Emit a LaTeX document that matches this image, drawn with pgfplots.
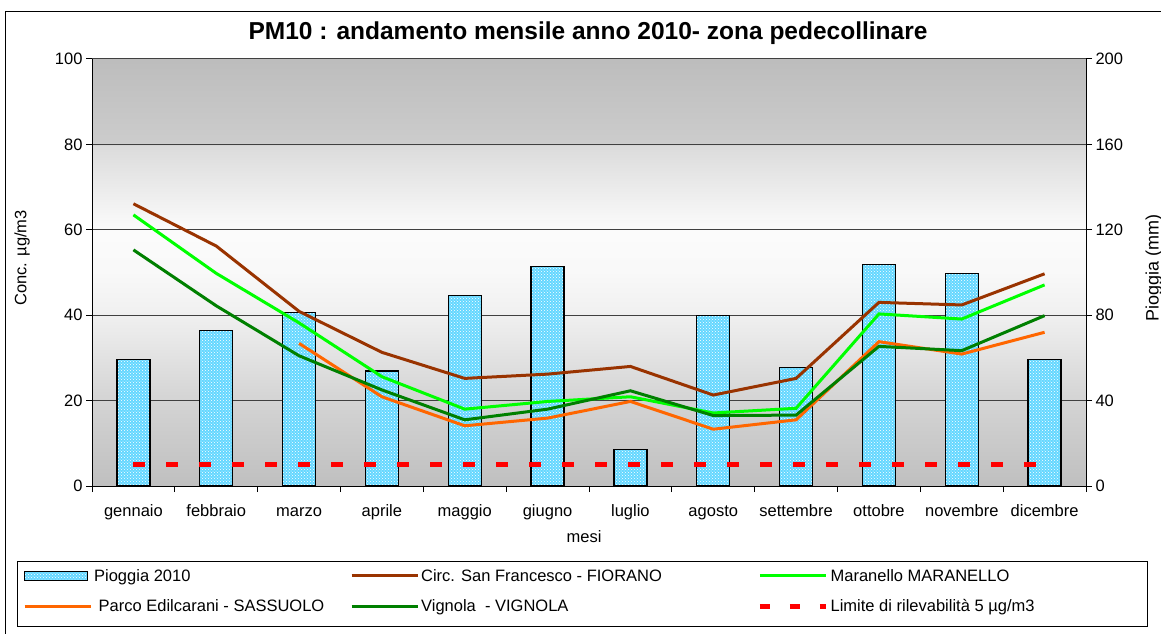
\documentclass[border=0pt]{standalone}
\usepackage{fontspec}
\setmainfont{Liberation Sans}
\usepackage{pgfplots}
\usepackage{pgfplotstable}
\pgfplotsset{compat=1.18}
\usetikzlibrary{patterns}

\definecolor{cBrown}{RGB}{153,51,0}
\definecolor{cLGreen}{RGB}{0,255,0}
\definecolor{cDGreen}{RGB}{0,128,0}
\definecolor{cOrange}{RGB}{255,102,0}
\definecolor{cRed}{RGB}{255,0,0}
\definecolor{cBar}{RGB}{100,215,255}
\definecolor{s0}{gray}{0.75}
\definecolor{s20}{gray}{0.83}
\definecolor{s40}{gray}{0.94}
\definecolor{s50}{gray}{0.975}
\definecolor{s60}{gray}{0.985}
\definecolor{s80b}{gray}{0.86}
\definecolor{s80a}{gray}{0.80}
\definecolor{s100}{gray}{0.74}
\pgfdeclareverticalshading{excelbg}{100bp}{color(0bp)=(s0); color(25bp)=(s0); color(35bp)=(s20); color(45bp)=(s40); color(50bp)=(s50); color(55bp)=(s60); color(64.8bp)=(s80b); color(65.2bp)=(s80a); color(75bp)=(s100); color(100bp)=(s100)}

\newcommand{\fs}{\fontsize{16.5}{19.8}\selectfont}
\newcommand{\fl}{\fontsize{16.5}{19.8}\selectfont}

\pgfplotstableread{
x mm
0 59.1
1 72.7
2 81.3
3 53.9
4 89.1
5 102.8
6 17.2
7 79.7
8 55.5
9 103.6
10 99.4
11 59.1
}\pioggia

\pgfplotstableread{
x fiorano maranello vignola
0 66.1 63.5 55.3
1 56.2 49.8 42.2
2 40.9 38.2 30.5
3 31.3 25.6 22.5
4 25.2 18.0 15.5
5 26.2 19.8 18.0
6 28.0 20.9 22.3
7 21.3 17.1 16.5
8 25.2 18.2 16.6
9 43.0 40.3 32.7
10 42.4 39.1 31.7
11 49.7 47.1 39.9
}\conc

\pgfplotstableread{
x sassuolo
2 33.4
3 20.9
4 14.1
5 15.9
6 19.8
7 13.3
8 15.5
9 33.8
10 30.9
11 36.0
}\sass

\pgfplotsset{
  common/.style={
    at={(92pt,147pt)}, anchor=south west, scale only axis,
    width=994pt, height=427pt, xmin=-0.5, xmax=11.5,
    /pgf/number format/assume math mode=true,
    ticklabel style={font=\fs},
    tick align=outside, major tick length=6pt,
    axis line style={black, line width=1pt},
    tick style={black, line width=1pt},
  },
  lineleg/.style={legend image code/.code={\draw[##1] (0pt,0pt) -- (66pt,0pt);}},
  barleg/.style={legend image code/.code={\draw[##1] (0pt,-4.5pt) rectangle (63pt,4.5pt);}},
  redleg/.style={legend image code/.code={\draw[cRed, line width=5.5pt, dash pattern=on 10pt off 20pt] (0pt,0pt) -- (66pt,0pt);}},
}

\begin{document}
\begin{tikzpicture}[x=1pt,y=1pt]
\path[use as bounding box] (0,0) rectangle (1161,633);

% base axis: background, grid, left scale, x tick marks
\begin{axis}[common,
  ymin=0, ymax=100,
  axis x line*=bottom, axis y line*=left,
  xtick={-0.5,0.5,...,11.5}, xticklabels={},
  ytick={0,20,...,100},
  ymajorgrids, grid style={black!75, line width=1pt},
  axis background/.style={shade, shading=excelbg},
]
\end{axis}

% bars on right scale
\begin{axis}[common,
  ymin=0, ymax=200,
  axis x line*=bottom, axis y line*=right,
  xtick={0,...,11},
  xticklabels={gennaio,febbraio,marzo,aprile,maggio,giugno,luglio,agosto,settembre,ottobre,novembre,dicembre},
  xtick style={draw=none},
  xticklabel style={yshift=-9pt, text height=12pt, text depth=4pt},
  ytick={0,40,...,200},
]
\addplot[ybar, bar width=33pt, fill=cBar, draw=black, line width=1.3pt,
  postaction={pattern=crosshatch dots, pattern color=white}]
  table[x=x, y=mm]{\pioggia};
\end{axis}

% lines on left scale + legend
\begin{axis}[common,
  ymin=0, ymax=100, hide x axis, hide y axis,
  legend columns=3,
  legend style={at={(axis description cs:-0.0755,-0.1756)}, anchor=north west,
    draw=none, fill=none, font=\fs, row sep=13pt,
    inner xsep=6pt, inner ysep=6pt,
    /tikz/every even column/.append style={column sep=4pt}},
  legend cell align=left,
  lineleg,
]
\addlegendimage{fill=cBar, draw=black, line width=1.3pt,
  postaction={pattern=crosshatch dots, pattern color=white}, barleg}
\addlegendentry{\makebox[250pt][l]{Pioggia 2010}}
\addplot[cBrown, line width=3pt] table[x=x, y=fiorano]{\conc};
\addlegendentry{\makebox[330pt][l]{Circ. San Francesco - FIORANO}}
\addplot[cLGreen, line width=3pt] table[x=x, y=maranello]{\conc};
\addlegendentry{\makebox[300pt][l]{Maranello MARANELLO}}
\addplot[cOrange, line width=3pt] table[x=x, y=sassuolo]{\sass};
\addlegendentry{\makebox[250pt][l]{\ Parco Edilcarani - SASSUOLO}}
\addplot[cDGreen, line width=3pt] table[x=x, y=vignola]{\conc};
\addlegendentry{\makebox[330pt][l]{Vignola\ \ - VIGNOLA}}
\addplot[cRed, line width=5.5pt, dash pattern=on 12pt off 21pt, redleg]
  coordinates {(0,5) (11,5)};
\addlegendentry{\makebox[300pt][l]{Limite di rilevabilità 5 µg/m3}}
\end{axis}

\draw[line width=1pt] (17,7) rectangle (1147,72);
\node[font=\bfseries\fontsize{24.5}{28}\selectfont] at (588,600) {PM10 : andamento mensile anno 2010- zona pedecollinare};
\node[rotate=90, font=\fl] at (22,375) {Conc. µg/m3};
\node[rotate=90, anchor=base, font=\fontsize{18}{21}\selectfont] at (1158.5,365) {Pioggia (mm)};
\node[font=\fl] at (584,96) {mesi};
\draw[line width=1pt] (5,-5) -- (5,621) -- (1170,621);
\end{tikzpicture}
\end{document}
